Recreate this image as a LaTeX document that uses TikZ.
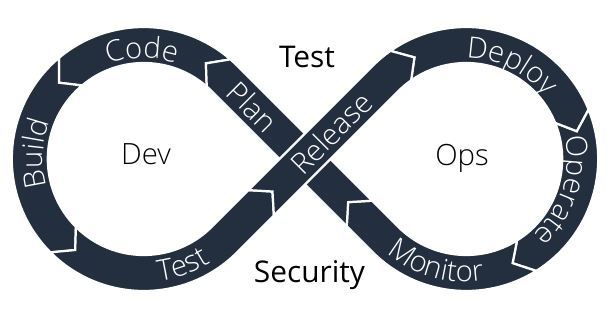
\documentclass[tikz,border=0pt]{standalone}
\usepackage{fontspec}
\setmainfont{Open Sans}
\newfontfamily\thinfont{Open Sans Light}
\usetikzlibrary{calc,decorations.text}
\definecolor{loopnavy}{HTML}{232F3E}
\newcommand{\loopR}{132}
\newcommand{\loopr}{96}
\newcommand{\loopm}{114}
\newcommand{\loopw}{18}
\newcommand{\bandfont}{\thinfont\fontsize{25}{30}\selectfont}
% one arc piece of a loop: centre, tail angle, head angle, tip depth
\newcommand{\looparc}[4]{%
  \fill[loop seg] ([shift={(#2:\loopR)}]#1) arc[start angle=#2,end angle=#3,radius=\loopR]
    -- ([shift={({#3+(#4)}:\loopm)}]#1) -- ([shift={(#3:\loopr)}]#1)
    arc[start angle=#3,end angle=#2,radius=\loopr]
    -- ([shift={({#2+(#4)}:\loopm)}]#1) -- cycle;}
\tikzset{
  loop seg/.style={fill=loopnavy,draw=white,line width=1.9pt,line join=miter},
  band label/.style={text=white,font=\bandfont,inner sep=0pt},
  loop name/.style={font=\thinfont\fontsize{25}{30}\selectfont,inner sep=0pt},
  mid label/.style={font=\fontsize{25.5}{30}\selectfont,inner sep=0pt},
  arc label/.style={decorate,decoration={text along path,text align=center,text color=white,text={|\bandfont|#1}}},
}
\begin{document}
\begin{tikzpicture}[x=0.03cm,y=0.03cm]
  \useasboundingbox (0,0) rectangle (613,311);
  \coordinate (dev) at (143.8,152);
  \coordinate (ops) at (466.2,152);
  \coordinate (mid) at (305,152);
  % left loop
  \looparc{dev}{49}{130}{8}
  \looparc{dev}{130}{225}{8}
  \fill[loop seg] ([shift={(225:\loopR)}]dev) arc[start angle=225,end angle=315,radius=\loopR]
    -- ($(mid)+(45:-62)+(-45:\loopw)$) -- ($(mid)+(45:-46)$) -- ($(mid)+(45:-62)+(135:\loopw)$)
    -- ([shift={(315:\loopr)}]dev) arc[start angle=315,end angle=225,radius=\loopr]
    -- ([shift={(233:\loopm)}]dev) -- cycle;
  % right loop
  \looparc{ops}{125}{22}{-8}
  \looparc{ops}{22}{-58}{-8}
  \fill[loop seg] ([shift={(-58:\loopR)}]ops) arc[start angle=-58,end angle=-135,radius=\loopR]
    -- ($(mid)+(135:-77)+(45:-\loopw)$) -- ($(mid)+(135:-61)$) -- ($(mid)+(135:-77)+(45:\loopw)$)
    -- ([shift={(-135:\loopr)}]ops) arc[start angle=-135,end angle=-58,radius=\loopr]
    -- ([shift={(-66:\loopm)}]ops) -- cycle;
  % the two diagonals, release on top
  \fill[loop seg] ($(mid)+(135:-77)+(45:\loopw)$) -- ([shift={(45:\loopR)}]dev)
    arc[start angle=45,end angle=49,radius=\loopR] -- ([shift={(57:\loopm)}]dev)
    -- ([shift={(49:\loopr)}]dev) arc[start angle=49,end angle=45,radius=\loopr]
    -- ($(mid)+(135:-77)+(45:-\loopw)$) -- ($(mid)+(135:-61)$) -- cycle;
  \fill[loop seg] ($(mid)+(45:-62)+(135:\loopw)$) -- ([shift={(135:\loopR)}]ops)
    arc[start angle=135,end angle=125,radius=\loopR] -- ([shift={(117:\loopm)}]ops)
    -- ([shift={(125:\loopr)}]ops) arc[start angle=125,end angle=135,radius=\loopr]
    -- ($(mid)+(45:-62)+(-45:\loopw)$) -- ($(mid)+(45:-46)$) -- cycle;
  % labels on the band
  \path[arc label=Code] ([shift={(136:101)}]dev) arc[start angle=136,end angle=46,radius=101];
  \path[arc label=Build] ([shift={(222:101)}]dev) arc[start angle=222,end angle=132,radius=101];
  \path[arc label=Test] ([shift={(245:123)}]dev) arc[start angle=245,end angle=335,radius=123];
  \path[arc label=Deploy] ([shift={(109:101)}]ops) arc[start angle=109,end angle=19,radius=101];
  \path[arc label=Operate] ([shift={(27:101)}]ops) arc[start angle=27,end angle=-63,radius=101];
  \path[arc label=Monitor] ([shift={(209:123)}]ops) arc[start angle=209,end angle=299,radius=123];
  \node[band label,rotate=-45] (plan) at ($(mid)+(135:74)$) {Plan};
  \node[band label,rotate=45] (release) at ($(mid)+(45:37)$) {Release};
  % names in and between the loops
  \node[loop name,anchor=base] (devname) at (146,146) {Dev};
  \node[loop name,anchor=base] (opsname) at (462,145) {Ops};
  \node[mid label,anchor=base] (testname) at (307,243) {Test};
  \node[mid label,anchor=base] (secname) at (309.5,28) {Security};
\end{tikzpicture}
\end{document}
